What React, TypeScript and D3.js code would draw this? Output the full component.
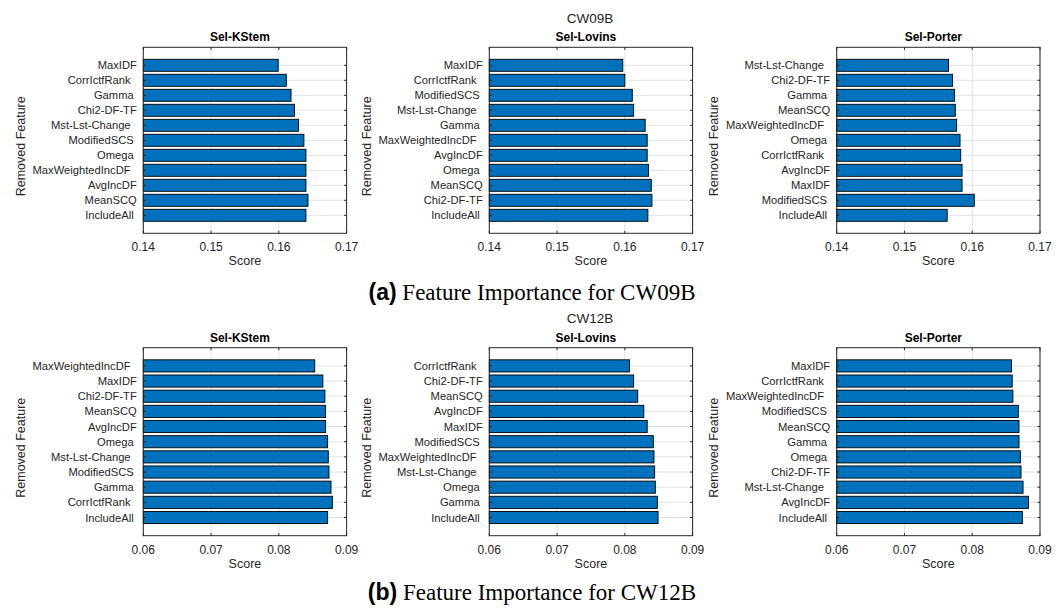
import React from "react";
import * as d3 from "d3";

const WIDTH = 1064;
const HEIGHT = 609;

const SANS = "'Liberation Sans', Arial, Helvetica, sans-serif";
const SERIF = "'Liberation Serif', 'Times New Roman', serif";
const BAR_FILL = "#0072BD";
const AXIS_COLOR = "#262626";
const GRID_COLOR = "#e3e3e3";

// Feature ablation results, listed from the top bar to the bottom bar.
const cw09KStemFeatures = ["MaxIDF", "CorrIctfRank  ", "Gamma ", "Chi2-DF-TF", "Mst-Lst-Change  ", "ModifiedSCS ", "Omega ", "MaxWeightedIncDF  ", "AvgIncDF", "MeanSCQ", "IncludeAll "];
const cw09KStemScores = [0.1599, 0.1611, 0.1618, 0.1623, 0.1629, 0.1637, 0.164, 0.164, 0.164, 0.1643, 0.164];

const cw09LovinsFeatures = ["MaxIDF", "CorrIctfRank  ", "ModifiedSCS ", "Mst-Lst-Change  ", "Gamma ", "MaxWeightedIncDF  ", "AvgIncDF", "Omega ", "MeanSCQ", "Chi2-DF-TF", "IncludeAll "];
const cw09LovinsScores = [0.1597, 0.16, 0.1611, 0.1613, 0.163, 0.1633, 0.1633, 0.1635, 0.1639, 0.164, 0.1634];

const cw09PorterFeatures = ["Mst-Lst-Change  ", "Chi2-DF-TF", "Gamma ", "MeanSCQ", "MaxWeightedIncDF  ", "Omega ", "CorrIctfRank  ", "AvgIncDF", "MaxIDF", "ModifiedSCS ", "IncludeAll "];
const cw09PorterScores = [0.1565, 0.1571, 0.1574, 0.1575, 0.1577, 0.1582, 0.1583, 0.1585, 0.1585, 0.1603, 0.1563];

const cw12KStemFeatures = ["MaxWeightedIncDF  ", "MaxIDF", "Chi2-DF-TF", "MeanSCQ", "AvgIncDF", "Omega ", "Mst-Lst-Change  ", "ModifiedSCS ", "Gamma ", "CorrIctfRank  ", "IncludeAll "];
const cw12KStemScores = [0.0853, 0.0865, 0.0868, 0.0869, 0.0869, 0.0872, 0.0873, 0.0874, 0.0877, 0.0879, 0.0872];

const cw12LovinsFeatures = ["CorrIctfRank  ", "Chi2-DF-TF", "MeanSCQ", "AvgIncDF", "MaxIDF", "ModifiedSCS ", "MaxWeightedIncDF  ", "Mst-Lst-Change  ", "Omega ", "Gamma ", "IncludeAll "];
const cw12LovinsScores = [0.0807, 0.0813, 0.0819, 0.0828, 0.0833, 0.0842, 0.0843, 0.0844, 0.0845, 0.0848, 0.0849];

const cw12PorterFeatures = ["MaxIDF", "CorrIctfRank  ", "MaxWeightedIncDF  ", "ModifiedSCS ", "MeanSCQ", "Gamma ", "Omega ", "Chi2-DF-TF", "Mst-Lst-Change  ", "AvgIncDF", "IncludeAll "];
const cw12PorterScores = [0.0858, 0.0859, 0.086, 0.0868, 0.0869, 0.0869, 0.0871, 0.0872, 0.0875, 0.0883, 0.0874];

const cw09Ticks = [0.14, 0.15, 0.16, 0.17];
const cw12Ticks = [0.06, 0.07, 0.08, 0.09];
const tickFormat = (v: number) => d3.format(".2f")(v).replace(/0$/, "");

type PanelProps = {
  left: number;
  top: number;
  width: number;
  height: number;
  title: string;
  features: string[];
  scores: number[];
  ticks: number[];
};

function Panel({ left, top, width, height, title, features, scores, ticks }: PanelProps) {
  const right = left + width;
  const bottom = top + height;
  const n = features.length;
  const x = d3.scaleLinear().domain([ticks[0], ticks[ticks.length - 1]]).range([left, right]);
  // bar slot k (1 = bottom bar, n = top bar), with a little room above and below
  const y = d3.scaleLinear().domain([n + 1.2, -0.2]).range([top, bottom]);
  const slots = features.map((_, i) => n - i);
  const tickLen = 2.5;
  const cx = (left + right) / 2;

  return (
    <g>
      {/* grid */}
      {ticks.map((t) => (
        <line key={"gx" + t} x1={x(t)} x2={x(t)} y1={top} y2={bottom} stroke={GRID_COLOR} strokeWidth={1} />
      ))}
      {slots.map((s) => (
        <line key={"gy" + s} x1={left} x2={right} y1={y(s)} y2={y(s)} stroke={GRID_COLOR} strokeWidth={1} />
      ))}
      {/* bars */}
      {scores.map((v, i) => {
        const s = slots[i];
        const y0 = y(s + 0.4);
        const y1 = y(s - 0.4);
        return (
          <rect
            key={"b" + i}
            x={x(ticks[0])}
            y={y0}
            width={x(v) - x(ticks[0])}
            height={y1 - y0}
            fill={BAR_FILL}
            stroke="#000"
            strokeWidth={0.9}
          />
        );
      })}
      {/* ticks inside the box */}
      {ticks.map((t) => (
        <g key={"tx" + t}>
          <line x1={x(t)} x2={x(t)} y1={bottom} y2={bottom - tickLen} stroke={AXIS_COLOR} />
          <line x1={x(t)} x2={x(t)} y1={top} y2={top + tickLen} stroke={AXIS_COLOR} />
        </g>
      ))}
      {slots.map((s) => (
        <g key={"ty" + s}>
          <line x1={left} x2={left + tickLen} y1={y(s)} y2={y(s)} stroke={AXIS_COLOR} />
          <line x1={right} x2={right - tickLen} y1={y(s)} y2={y(s)} stroke={AXIS_COLOR} />
        </g>
      ))}
      <rect x={left} y={top} width={width} height={height} fill="none" stroke={AXIS_COLOR} strokeWidth={1} />
      {/* tick labels */}
      {ticks.map((t) => (
        <text key={"lx" + t} x={x(t)} y={bottom + 18} textAnchor="middle" fontSize={12} fill={AXIS_COLOR} fontFamily={SANS}>
          {tickFormat(t)}
        </text>
      ))}
      {features.map((f, i) => (
        <text
          key={"ly" + i}
          x={left - 6.5}
          y={y(slots[i])}
          dy="0.36em"
          textAnchor="end"
          fontSize={11.2}
          fill={AXIS_COLOR}
          fontFamily={SANS}
          style={{ whiteSpace: "pre" }}
        >
          {f}
        </text>
      ))}
      {/* labels */}
      <text x={cx} y={bottom + 32} textAnchor="middle" fontSize={12.5} fill={AXIS_COLOR} fontFamily={SANS}>
        Score
      </text>
      <text
        transform={`translate(${left - 123},${(top + bottom) / 2 + 6}) rotate(-90)`}
        textAnchor="middle"
        dy="0.36em"
        fontSize={12.5}
        fill={AXIS_COLOR}
        fontFamily={SANS}
      >
        Removed Feature
      </text>
      <text x={cx - 5} y={top - 6} textAnchor="middle" fontSize={12} fontWeight="bold" fill="#000" fontFamily={SANS}>
        {title}
      </text>
    </g>
  );
}

const columns = [143.3, 489.3, 836.7];
const panelWidth = 203.3;
const rows = [
  { top: 47.3, height: 186 },
  { top: 347.7, height: 188 },
];

export default function App() {
  const topRow = [
    { title: "Sel-KStem", features: cw09KStemFeatures, scores: cw09KStemScores },
    { title: "Sel-Lovins", features: cw09LovinsFeatures, scores: cw09LovinsScores },
    { title: "Sel-Porter", features: cw09PorterFeatures, scores: cw09PorterScores },
  ];
  const bottomRow = [
    { title: "Sel-KStem", features: cw12KStemFeatures, scores: cw12KStemScores },
    { title: "Sel-Lovins", features: cw12LovinsFeatures, scores: cw12LovinsScores },
    { title: "Sel-Porter", features: cw12PorterFeatures, scores: cw12PorterScores },
  ];
  return (
    <svg
      width={WIDTH}
      height={HEIGHT}
      viewBox={`0 0 ${WIDTH} ${HEIGHT}`}
      style={{ position: "absolute", left: 0, top: 0, background: "#fff" }}
    >
      <rect width={WIDTH} height={HEIGHT} fill="#fff" />
      <text x={590} y={23} textAnchor="middle" fontSize={13.5} fill={AXIS_COLOR} fontFamily={SANS}>
        CW09B
      </text>
      {topRow.map((p, i) => (
        <Panel key={"a" + i} left={columns[i]} top={rows[0].top} width={panelWidth} height={rows[0].height} ticks={cw09Ticks} {...p} />
      ))}
      <text x={532} y={300} textAnchor="middle" fontSize={23} fill="#000">
        <tspan fontFamily={SANS} fontWeight="bold">(a)</tspan>
        <tspan fontFamily={SERIF}> Feature Importance for CW09B</tspan>
      </text>
      <text x={590} y={323} textAnchor="middle" fontSize={13.5} fill={AXIS_COLOR} fontFamily={SANS}>
        CW12B
      </text>
      {bottomRow.map((p, i) => (
        <Panel key={"b" + i} left={columns[i]} top={rows[1].top} width={panelWidth} height={rows[1].height} ticks={cw12Ticks} {...p} />
      ))}
      <text x={532} y={600} textAnchor="middle" fontSize={23} fill="#000">
        <tspan fontFamily={SANS} fontWeight="bold">(b)</tspan>
        <tspan fontFamily={SERIF}> Feature Importance for CW12B</tspan>
      </text>
    </svg>
  );
}
